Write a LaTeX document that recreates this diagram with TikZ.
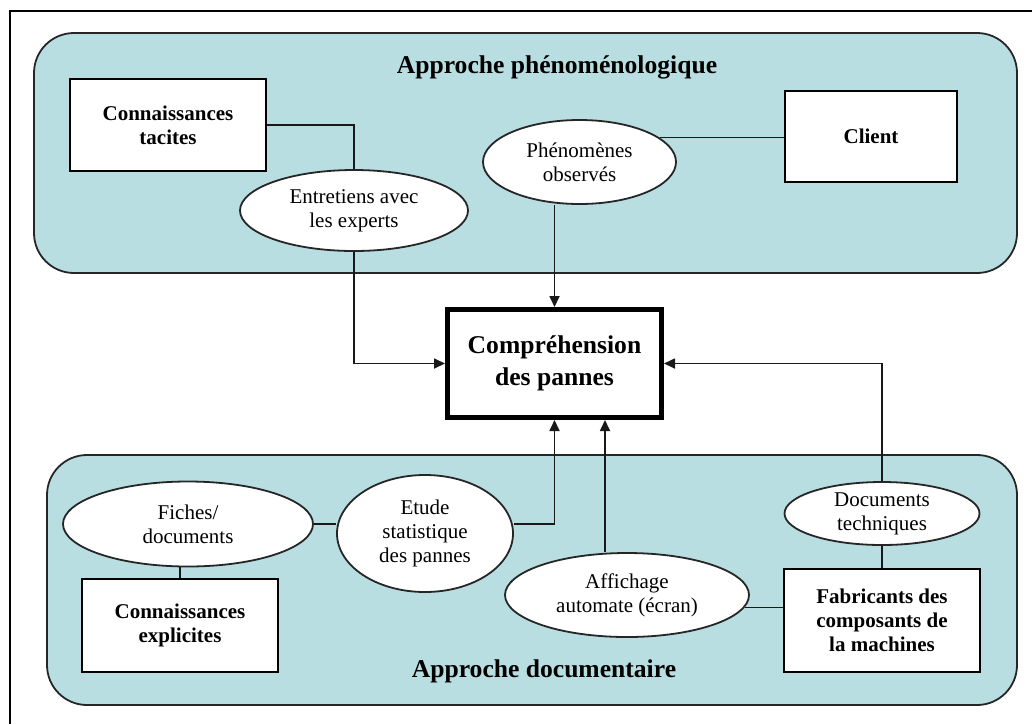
\documentclass[tikz,border=0pt]{standalone}
\usepackage{fontspec}
\setmainfont{Liberation Serif}
\usetikzlibrary{shapes.geometric, arrows.meta, calc}
\definecolor{panelblue}{RGB}{184,222,226}

\begin{document}
\begin{tikzpicture}[x=0.5pt, y=-0.5pt,
    txt/.style={font=\fontsize{10.5}{12}\selectfont, align=center},
    boxnode/.style={txt, rectangle, draw, fill=white, line width=1.1pt, font=\fontsize{10.5}{12}\selectfont\bfseries, inner sep=0pt},
    oval/.style={txt, ellipse, draw=black!85, fill=white, line width=0.9pt, inner sep=0pt},
    panel/.style={draw=black!85, fill=panelblue, line width=0.9pt, rounded corners=20pt},
    paneltitle/.style={font=\fontsize{12.8}{15}\selectfont\bfseries},
    link/.style={line width=0.85pt, draw=black!90},
    arrow/.style={link, -{Triangle[length=5.5pt, width=5pt]}}]
    \useasboundingbox (0,0) rectangle (1032,724);

    % Frame and panels
    \draw[line width=1.1pt] (10,724) -- (10,11) -- (1032,11);
    \draw[panel] (34,33) rectangle (1017,273);
    \draw[panel] (47,455) rectangle (1017,705);
    \node (phenoTitle) [paneltitle] at (557,67) {Approche phénoménologique};
    \node (docTitle) [paneltitle] at (544,671) {Approche documentaire};

    % Nodes
    \node (tacit) [boxnode, minimum width=98pt, minimum height=46pt] at (168,125) {Connaissances\\tacites};
    \node (client) [boxnode, minimum width=86pt, minimum height=45.5pt] at (871,136.5) {Client};
    \node (interviews) [oval, minimum width=114pt, minimum height=40.5pt] at (354,210.5) {Entretiens avec\\les experts};
    \node (phenom) [oval, minimum width=96.5pt, minimum height=42pt] at (579.5,162) {Phénomènes\\observés};
    \node (comp) [boxnode, line width=2.5pt, minimum width=107pt, minimum height=54pt, font=\fontsize{12.8}{16}\selectfont\bfseries] at (554.5,363.5) {Compréhension\\des pannes};
    \node (fiches) [oval, minimum width=125pt, minimum height=42.5pt] at (188,524) {Fiches/\\documents};
    \node (etude) [oval, minimum width=88pt, minimum height=58.5pt] at (425,533.5) {Etude\\statistique\\des pannes};
    \node (explicit) [boxnode, minimum width=98pt, minimum height=46.5pt] at (180,625.5) {Connaissances\\explicites};
    \node (display) [oval, minimum width=122pt, minimum height=42pt] at (627,595) {Affichage\\automate (écran)};
    \node (docTech) [oval, minimum width=97.5pt, minimum height=31.5pt] at (882,513.5) {Documents\\techniques};
    \node (makers) [boxnode, minimum width=98pt, minimum height=51.5pt] at (882,620.5) {Fabricants des\\composants de\\la machines};

    % Arrows
    \draw[link] (tacit.east) -| (interviews.north);
    \draw[arrow] (interviews.south) |- (comp.west);
    \draw[link] (phenom.17) -- (phenom.17 -| client.west);
    \draw[arrow] (phenom.south -| comp.north) -- (comp.north);
    \draw[arrow] (docTech.north) |- (comp.east);
    \draw[link] (fiches.east) -- (fiches.east -| etude.west);
    \draw[arrow] (fiches.east -| etude.east) -| (comp.south);
    \draw[link] (fiches.south -| explicit.north) -- (explicit.north);
    \coordinate (displayTop) at ($(display.north)+(-22,0)$);
    \draw[arrow] (displayTop) -- (displayTop |- comp.south);
    \draw[link] (display.-6) -- (display.-6 -| makers.west);
    \draw[link] (docTech.south) -- (makers.north);
\end{tikzpicture}
\end{document}
